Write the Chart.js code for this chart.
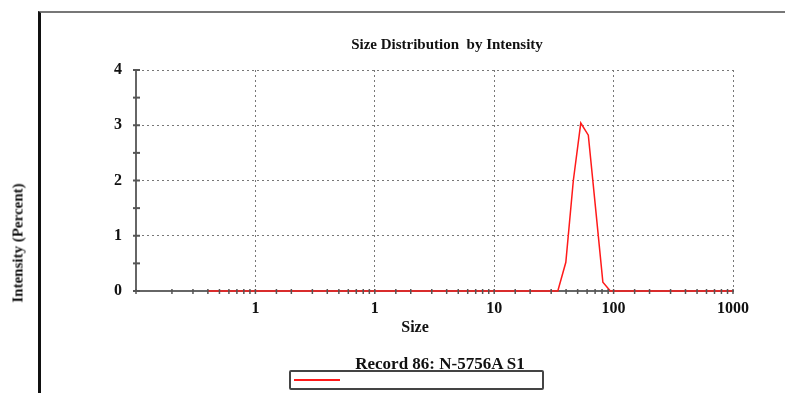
<!DOCTYPE html>
<html>
<head>
<meta charset="utf-8">
<script src="https://cdn.jsdelivr.net/npm/chart.js@4/dist/chart.umd.min.js"></script>
<style>
    body { margin: 0; background: #fff; }
    #wrap { position: relative; width: 785px; height: 393px; overflow: hidden; font-family: "Liberation Serif", "DejaVu Serif", serif; font-weight: bold; color: #111; }
    #chart { position: absolute; left: 0; top: 0; }
    .frame { position: absolute; left: 38px; top: 11px; width: 800px; height: 420px; border-left: 3px solid #111; border-top: 2px solid #777; }
    .title { position: absolute; left: 0; width: 894px; top: 36px; text-align: center; font-size: 15px; white-space: pre; }
    .y-title { position: absolute; left: 18px; top: 243px; font-size: 15px; white-space: nowrap; transform: translate(-50%, -50%) rotate(-90deg); }
    .x-title { position: absolute; left: 415px; top: 327px; font-size: 16px; transform: translate(-50%, -50%); }
    .legend-name { position: absolute; left: 440px; top: 364px; font-size: 17px; white-space: nowrap; transform: translate(-50%, -50%); }
    .legend-box { position: absolute; left: 289px; top: 370px; width: 251px; height: 16px; border: 2px solid #444; border-radius: 2px; }
    .legend-line { position: absolute; left: 3px; top: 7px; width: 46px; height: 2px; }
</style>
</head>
<body>
<div id="wrap">
    <div class="frame"></div>
    <canvas id="chart" width="785" height="393"></canvas>
    <div class="title" id="title"></div>
    <div class="y-title" id="y-title"></div>
    <div class="x-title" id="x-title"></div>
    <div class="legend-box"><div class="legend-line" id="legend-line"></div></div>
    <div class="legend-name" id="legend-name"></div>
</div>
<script>
// Size distribution by intensity, one record
const chartTitle = 'Size Distribution  by Intensity';
const xTitle = 'Size';
const yTitle = 'Intensity (Percent)';
const recordName = 'Record 86: N-5756A S1';

// size bins (d.nm) and intensity (%)
const sizes = [0.04, 34.1, 39.8, 46.0, 53.1, 61.4, 71.0, 81.3, 93.9, 1000];
const intensity = [0, 0, 0.52, 2.0, 3.04, 2.82, 1.45, 0.16, 0, 0];

// decade ticks on the size axis and the labels printed under them
const sizeTicks = [0.1, 1, 10, 100, 1000];
const sizeTickLabels = ['1', '1', '10', '100', '1000'];

// intensity axis
const intensityTicks = [0, 1, 2, 3, 4];

const lineColor = '#ff1a1a';

document.getElementById('title').textContent = chartTitle;
document.getElementById('x-title').textContent = xTitle;
document.getElementById('y-title').textContent = yTitle;
document.getElementById('legend-name').textContent = recordName;
document.getElementById('legend-line').style.background = lineColor;

// short tick marks that straddle both axis lines
const axisTicks = {
    id: 'axisTicks',
    afterDraw(chart) {
        const { ctx, scales: { x, y }, chartArea } = chart;
        ctx.save();
        ctx.strokeStyle = '#555';
        ctx.lineWidth = 2;
        y.ticks.forEach(t => {
            const py = y.getPixelForValue(t.value);
            ctx.beginPath();
            ctx.moveTo(chartArea.left - 3, py);
            ctx.lineTo(chartArea.left + 4, py);
            ctx.stroke();
        });
        ctx.lineWidth = 1.5;
        x.ticks.forEach(t => {
            const px = x.getPixelForValue(t.value);
            ctx.beginPath();
            ctx.moveTo(px, chartArea.bottom - 2);
            ctx.lineTo(px, chartArea.bottom + 3);
            ctx.stroke();
        });
        ctx.restore();
    }
};

const tickFont = { family: '"Liberation Serif", serif', size: 16, weight: 'bold' };

new Chart(document.getElementById('chart'), {
    type: 'line',
    data: {
        datasets: [{
            label: recordName,
            data: sizes.map((s, i) => ({ x: s, y: intensity[i] })),
            borderColor: lineColor,
            borderWidth: 1.5,
            pointRadius: 0,
            tension: 0,
            clip: 4
        }]
    },
    options: {
        responsive: false,
        animation: false,
        layout: { padding: { left: 96, right: 52, top: 70, bottom: 72 } },
        plugins: { legend: { display: false }, tooltip: { enabled: false } },
        scales: {
            x: {
                type: 'logarithmic',
                min: 0.01,
                max: 1000,
                afterFit: s => { s.height = 30; },
                // in v4 border.dash is what dashes the grid lines
                border: { display: true, color: '#666', width: 2, dash: [2, 3] },
                grid: {
                    drawTicks: false,
                    color: c => (c.tick && sizeTicks.includes(c.tick.value)) ? '#777' : 'rgba(0,0,0,0)',
                    lineWidth: 1
                },
                ticks: {
                    autoSkip: false,
                    maxRotation: 0,
                    padding: 8,
                    color: '#111',
                    font: tickFont,
                    callback: function (value) {
                        const i = sizeTicks.findIndex(v => Math.abs(v - value) < value * 1e-6);
                        return i >= 0 ? sizeTickLabels[i] : '';
                    }
                },
                afterBuildTicks: s => {
                    s.ticks = s.ticks.filter(t => t.value >= 0.01 && t.value <= 1000);
                }
            },
            y: {
                min: 0,
                max: 4,
                afterFit: s => { s.width = 40; },
                border: { display: true, color: '#666', width: 2, dash: [2, 3] },
                grid: {
                    drawTicks: false,
                    color: c => (c.tick && c.tick.value > 0 && intensityTicks.includes(c.tick.value)) ? '#777' : 'rgba(0,0,0,0)',
                    lineWidth: 1
                },
                ticks: {
                    stepSize: 0.5,
                    padding: 14,
                    color: '#111',
                    font: tickFont,
                    callback: v => intensityTicks.includes(v) ? String(v) : ''
                }
            }
        }
    },
    plugins: [axisTicks]
});
</script>
</body>
</html>
